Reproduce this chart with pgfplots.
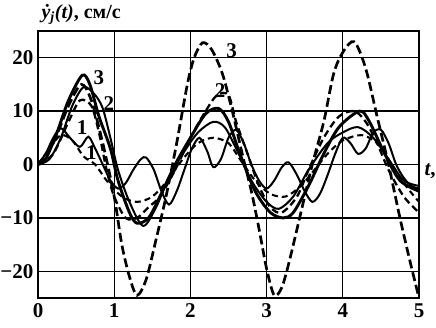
\documentclass[border=0pt]{standalone}
\usepackage{pgfplots}
\pgfplotsset{compat=1.18}
\usepackage{fontspec}
\setmainfont{Liberation Serif}
\begin{document}
\begin{tikzpicture}
\path[use as bounding box] (-38pt,-29pt) rectangle (398pt,298pt);
\begin{axis}[
  scale only axis, width=381pt, height=267pt,
  xmin=0, xmax=5, ymin=-25, ymax=25,
  xtick={0,1,2,3,4,5}, ytick={-20,-10,0,10,20},
  yticklabels={−20,−10,0,10,20},
  grid=major, major grid style={black, line width=1.3pt},
  major tick length=0pt,
  axis line style={black, line width=2.4pt},
  tick label style={font=\fontsize{21}{24}\selectfont\bfseries},
  /pgf/number format/assume math mode=true,
  yticklabel style={xshift=-1pt},
  xticklabel style={yshift=-2pt},
  clip=true,
]
% large dashed
\addplot[black, line width=2.7pt, dash pattern=on 9pt off 4pt, smooth] coordinates {
(0,0)(0.2,4)(0.4,11)(0.57,15)(0.7,12)(0.85,4)(1.0,-6)(1.1,-15)(1.2,-21)(1.3,-24.5)(1.42,-21.5)(1.55,-14)(1.68,-6)(1.82,4)(1.96,15)(2.05,20)(2.16,22.8)(2.28,21.5)(2.42,17)(2.55,10)(2.68,2)(2.8,-5)(2.9,-12)(3.0,-19.5)(3.1,-24.5)(3.2,-23)(3.3,-18)(3.45,-9)(3.6,0)(3.75,8)(3.88,17)(4.0,21)(4.15,23)(4.3,18)(4.45,9)(4.6,0)(4.75,-10)(4.88,-18)(5,-25)};
% dashed 2
\addplot[black, line width=2.3pt, dash pattern=on 7pt off 4pt, smooth] coordinates {
(0,0)(0.2,2)(0.4,8)(0.55,12)(0.7,11)(0.8,6)(0.9,-1)(1.0,-6)(1.15,-10)(1.3,-10)(1.45,-8)(1.6,-6)(1.8,-1)(2.0,5)(2.2,10)(2.35,13)(2.5,13)(2.6,8)(2.75,2)(2.9,-4)(3.05,-8)(3.2,-9)(3.4,-6)(3.55,-1)(3.75,5)(3.95,9)(4.15,10)(4.3,8)(4.45,4)(4.6,-1)(4.8,-6)(5,-9)};
% dashed 1
\addplot[black, line width=2.1pt, dash pattern=on 6pt off 4pt, smooth] coordinates {
(0,0)(0.15,3)(0.3,5.5)(0.45,4.5)(0.6,1.5)(0.75,0)(0.9,-3)(1.1,-6)(1.3,-7)(1.5,-6)(1.7,-3)(1.9,1)(2.1,4)(2.3,5)(2.5,4)(2.65,1)(2.85,-3)(3.05,-5.5)(3.25,-6)(3.45,-4)(3.6,-1.5)(3.8,2)(4.0,4.5)(4.25,5.5)(4.45,4)(4.6,1)(4.8,-3.5)(5,-7)};
% solid 3
\addplot[black, line width=2.9pt, smooth] coordinates {
(0,0)(0.1,1)(0.25,6)(0.4,12)(0.58,16.7)(0.68,15)(0.8,9)(0.95,3)(1.05,-3)(1.2,-9)(1.3,-11)(1.45,-10)(1.6,-6)(1.8,0)(2.0,5)(2.2,9.5)(2.37,10.5)(2.5,8)(2.65,2)(2.85,-5)(3.05,-9)(3.22,-10)(3.35,-9)(3.55,-4)(3.75,2)(3.95,7)(4.22,10)(4.35,8)(4.55,2)(4.75,-3)(5,-5)};
% solid 2
\addplot[black, line width=2pt, smooth] coordinates {
(0,0)(0.15,1)(0.3,5)(0.45,11)(0.6,14.5)(0.75,13)(0.85,10.5)(0.95,5)(1.05,-1)(1.2,-7)(1.38,-11.5)(1.55,-8)(1.7,-3)(1.9,2)(2.1,6)(2.3,8)(2.45,7)(2.6,3)(2.8,-3)(3.0,-7)(3.16,-8.3)(3.35,-6)(3.55,-1)(3.8,4)(4.0,6)(4.2,7)(4.4,5)(4.6,1)(4.8,-3)(5,-4)};
% solid 1
\addplot[black, line width=2pt, smooth] coordinates {
(0,0)(0.1,2)(0.2,5)(0.3,6.8)(0.42,5)(0.55,3.3)(0.66,5.2)(0.75,3)(0.85,0)(0.95,-3)(1.05,-4.5)(1.15,-3.5)(1.25,-1)(1.35,1)(1.42,1.3)(1.52,-1)(1.62,-5)(1.72,-7.5)(1.82,-5)(1.92,-1)(2.02,3)(2.12,5)(2.22,2.5)(2.3,-0.5)(2.4,1)(2.5,5)(2.6,6.5)(2.7,4)(2.8,0)(2.9,-3)(3.0,-4.5)(3.1,-3)(3.2,-0.5)(3.29,0.4)(3.4,-2)(3.5,-5)(3.6,-7)(3.7,-5.5)(3.8,-2)(3.9,2)(4.0,5)(4.1,4)(4.2,2)(4.3,3)(4.4,6)(4.5,6.5)(4.6,4)(4.7,0)(4.8,-2.5)(4.9,-4)(5,-4.5)};
\node[font=\fontsize{21}{24}\selectfont\bfseries] at (axis cs:0.8,16.3) {3};
\node[font=\fontsize{21}{24}\selectfont\bfseries] at (axis cs:0.93,11.5) {2};
\node[font=\fontsize{21}{24}\selectfont\bfseries] at (axis cs:0.58,7) {1};
\node[font=\fontsize{21}{24}\selectfont\bfseries] at (axis cs:0.7,2.2) {1};
\node[font=\fontsize{21}{24}\selectfont\bfseries] at (axis cs:2.54,21.3) {3};
\node[font=\fontsize{21}{24}\selectfont\bfseries] at (axis cs:2.39,13.9) {2};
\end{axis}
\node[font=\fontsize{21}{24}\selectfont\bfseries, anchor=west] at (383pt,127pt) {\textit{t},};
\node[font=\fontsize{20}{24}\selectfont\bfseries, anchor=west] at (0pt,284pt) {\textit{\.{y}}\textsubscript{\textit{j}}\textit{(t)}, см/с};
\end{tikzpicture}
\end{document}
